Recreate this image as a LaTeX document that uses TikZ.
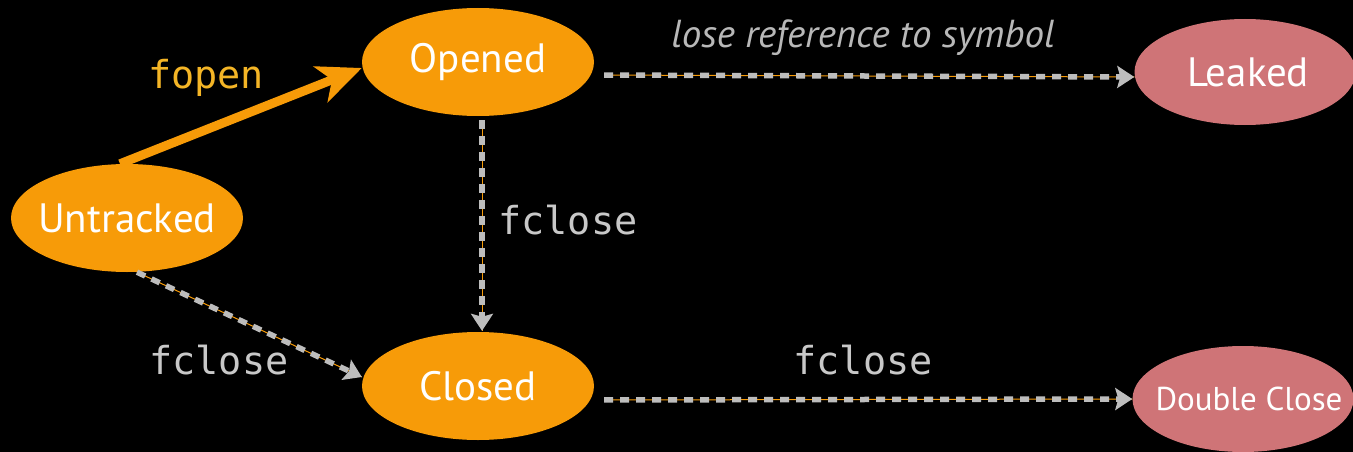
\documentclass[tikz,border=0pt]{standalone}
\usepackage{fontspec}
\setmainfont{PT Sans}
\newfontfamily\codefont{DejaVu Sans Mono}
\usetikzlibrary{arrows.meta,shapes.geometric}
\definecolor{stateorange}{HTML}{F79B08}
\definecolor{statepink}{HTML}{CF7477}
\definecolor{dashgray}{HTML}{BDBDBD}
\definecolor{codegray}{HTML}{C8C8C8}
\definecolor{codeyellow}{HTML}{F4B526}
\definecolor{notegray}{HTML}{B8B8B8}
\tikzset{
  statebox/.style={ellipse, fill=stateorange, inner sep=0pt,
    minimum width=232pt, minimum height=108pt},
  badbox/.style={statebox, fill=statepink, minimum width=221pt, minimum height=106pt},
  statename/.style={text=white, font=\fontsize{41}{48}\selectfont},
  codelabel/.style={text=codegray, font=\codefont\fontsize{38.5}{46}\selectfont},
  dashflow/.style={draw=dashgray, line width=5.5pt, dash pattern=on 9pt off 7pt,
    -{Stealth[length=17pt,width=22pt,inset=3pt]},
    preaction={draw=stateorange, line width=1pt, solid, -}},
  openflow/.style={draw=stateorange, line width=9pt,
    -{Stealth[length=44pt,width=38pt,inset=12pt]}},
}
\begin{document}
\begin{tikzpicture}[x=1pt,y=-1pt]
  \fill[black] (0,0) rectangle (1353,452);
  \useasboundingbox (0,0) rectangle (1353,452);

  % states
  \node[statebox, label={[statename]center:Untracked}] (U) at (127,218) {};
  \node[statebox, label={[statename]center:Opened}]    (O) at (478,62) {};
  \node[statebox, label={[statename]center:Closed}]    (C) at (478,386) {};
  \node[badbox, label={[statename, xshift=3pt]center:Leaked}] (L) at (1245,72) {};
  \node[badbox, label={[statename, xshift=6pt, font=\fontsize{33}{40}\selectfont]center:Double Close}] (D) at (1243,399) {};

  % transitions
  \draw[openflow] ([xshift=-7pt]U.north) -- ([yshift=-6pt]O.west);
  \draw[dashflow, shorten <=10pt] ([yshift=-13pt]O.east) -- ([yshift=-5pt]L.west);
  \draw[dashflow, shorten <=4pt, shorten >=1pt] ([xshift=4pt]O.south) -- ([xshift=4pt]C.north);
  \draw[dashflow] ([xshift=10pt]U.south) -- ([yshift=9pt]C.west);
  \draw[dashflow, shorten <=10pt] ([yshift=-14pt]C.east) -- (D.west);

  % transition labels
  \node[codelabel, text=codeyellow] (lopen) at (206,78) {fopen};
  \node[codelabel] (lclose1) at (568,220) {fclose};
  \node[codelabel] (lclose2) at (219,360) {fclose};
  \node[codelabel] (lclose3) at (863,360) {fclose};
  \node[text=notegray, font=\itshape\fontsize{39}{46}\selectfont] (lleak) at (863,38) {lose reference to symbol};
\end{tikzpicture}
\end{document}
